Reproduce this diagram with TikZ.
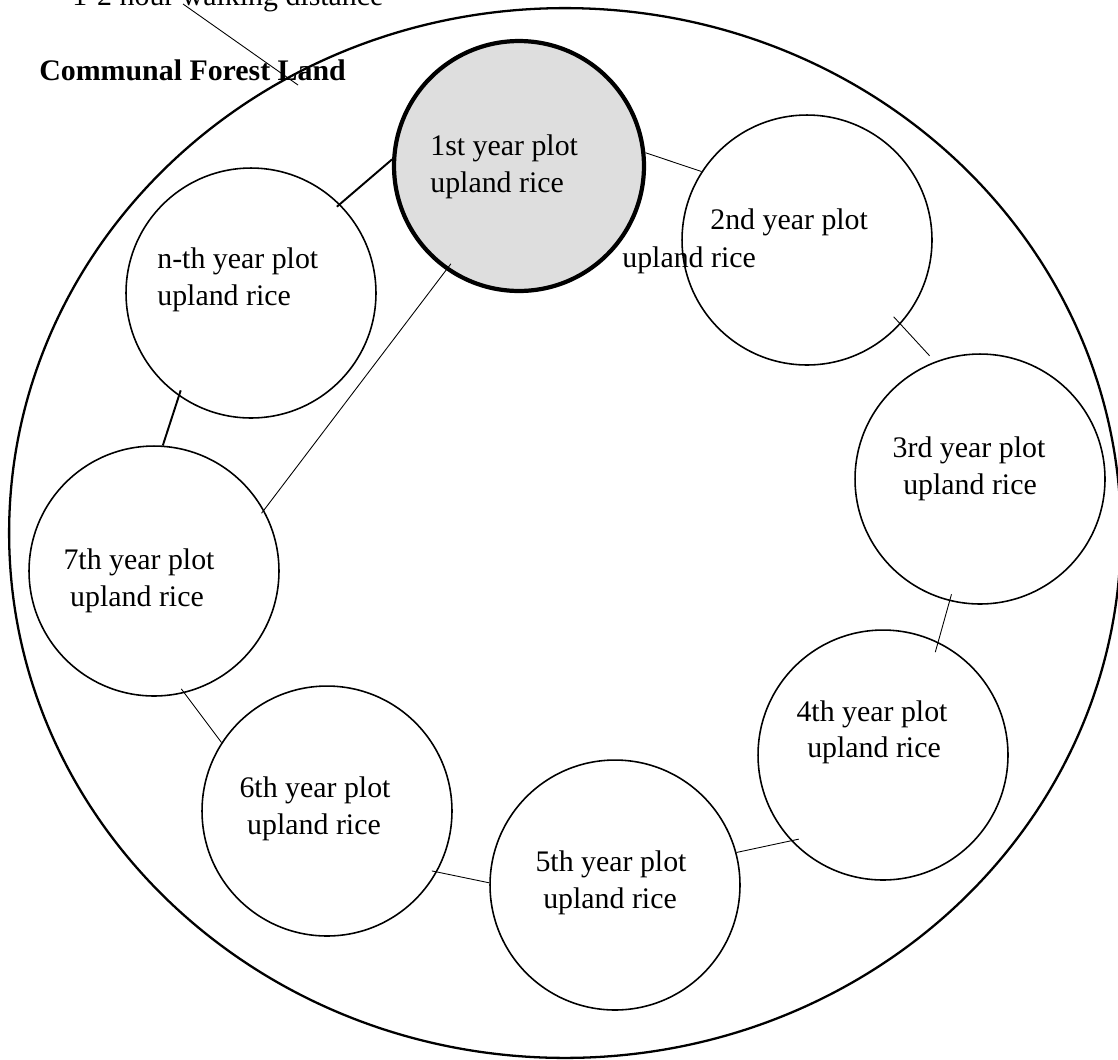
\documentclass[tikz,border=0pt]{standalone}
\usepackage{fontspec}
\setmainfont{Liberation Serif}
\begin{document}
\begin{tikzpicture}[x=0.02cm,y=-0.02cm,
  plot/.style={circle,draw,line width=0.9pt,minimum size=5cm,inner sep=0pt},
  first/.style={plot,line width=2.4pt,fill=black!13},
  lbl/.style={inner sep=0pt,font=\fontsize{17pt}{20pt}\selectfont},
  thin/.style={line width=0.5pt},
  thick/.style={line width=1.1pt}]
\useasboundingbox (0,0) rectangle (1118,1059);
\clip (0,0) rectangle (1118,1059);
% communal forest land
\draw[line width=1.3pt] (565,533) ellipse [x radius=11.12cm, y radius=10.5cm];
% plots
\node[first] (c1) at (519,166) {};
\node[plot] (c2) at (807,240) {};
\node[plot] (c3) at (980,479) {};
\node[plot] (c4) at (883,755) {};
\node[plot] (c5) at (615,885) {};
\node[plot] (c6) at (327,811) {};
\node[plot] (c7) at (154,571) {};
\node[plot] (cn) at (251,293) {};
% labels
\node[lbl,anchor=base west] (t1a) at (430,155) {1st year plot};
\node[lbl,anchor=base west] (t1b) at (430,192) {upland rice};
\node[lbl,anchor=base west] (t2a) at (710,229) {2nd year plot};
\node[lbl,anchor=base west] (t2b) at (622,267) {upland rice};
\node[lbl,anchor=base] (t3a) at (969,457) {3rd year plot};
\node[lbl,anchor=base] (t3b) at (970,494) {upland rice};
\node[lbl,anchor=base] (t4a) at (872,721) {4th year plot};
\node[lbl,anchor=base] (t4b) at (874,757) {upland rice};
\node[lbl,anchor=base] (t5a) at (611,871) {5th year plot};
\node[lbl,anchor=base] (t5b) at (610,908) {upland rice};
\node[lbl,anchor=base] (t6a) at (315,797) {6th year plot};
\node[lbl,anchor=base] (t6b) at (314,834) {upland rice};
\node[lbl,anchor=base] (t7a) at (139,569) {7th year plot};
\node[lbl,anchor=base] (t7b) at (137,606) {upland rice};
\node[lbl,anchor=base west] (tna) at (157,268) {n-th year plot};
\node[lbl,anchor=base west] (tnb) at (157,305) {upland rice};
\node[lbl,anchor=base west] (top) at (72,5) {1-2 hour walking distance};
\node[lbl,anchor=base west,font=\fontsize{17pt}{20pt}\selectfont\bfseries] (cfl) at (39,80) {Communal Forest Land};
% connectors
\draw[thin] (c1.6) -- (c2.147);
\draw[thin,shorten <=-5.7pt,shorten >=4.5pt] (c2.-42) -- (c3.111);
\draw[thin,shorten <=-4pt,shorten >=-6pt] (c3.-104) -- (c4.64);
\draw[thin,shorten <=-4.5pt] (c4.-137) -- (c5.15);
\draw[thin,shorten >=-3pt] (c5.179) -- (c6.-29);
\draw[thin,shorten >=-3pt] (c6.147) -- (c7.-76);
\draw[thick,shorten >=-3.4pt] (c7.86) -- (cn.-125);
\draw[thick,shorten <=-2.3pt] (cn.45) -- (c1.177);
\draw[thin,shorten <=-2.3pt,shorten >=-4.5pt] (c7.29) -- (c1.-125);
\coordinate (w1) at (183,4);
\coordinate (w2) at (298,85);
\draw[thin] (w1) -- (w2);
\end{tikzpicture}
\end{document}
